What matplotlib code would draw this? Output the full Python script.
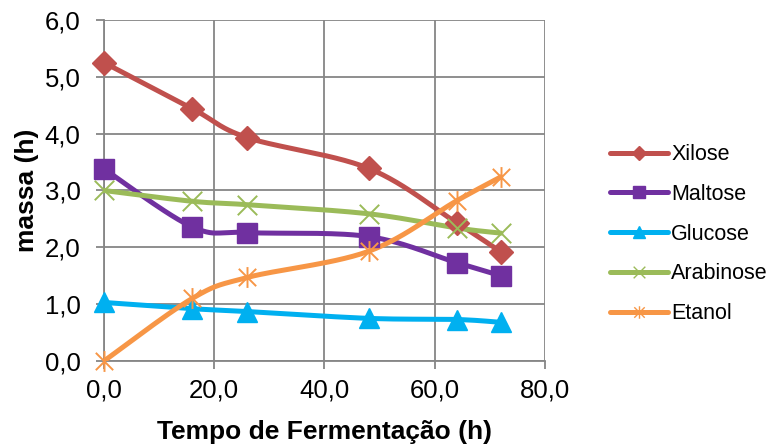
import numpy as np
import matplotlib
matplotlib.use("Agg")
from matplotlib import pyplot as plt
from matplotlib.path import Path
from matplotlib.lines import Line2D

plt.rcParams['font.family'] = ['Liberation Sans', 'DejaVu Sans']

# data
tempo = [0, 16, 26, 48, 64, 72]
xilose = [5.25, 4.44, 3.93, 3.39, 2.43, 1.92]
maltose = [3.38, 2.36, 2.26, 2.19, 1.73, 1.50]
glucose = [1.03, 0.92, 0.87, 0.75, 0.73, 0.68]
arabinose = [3.00, 2.81, 2.75, 2.59, 2.34, 2.25]
etanol = [0.00, 1.10, 1.47, 1.93, 2.82, 3.24]

names = ["Xilose", "Maltose", "Glucose", "Arabinose", "Etanol"]
colors = ["#C0504D", "#7030A0", "#00B0F0", "#9BBB59", "#F79646"]

# Excel-like star marker (x with vertical bar)
star = Path([(-1, -1), (1, 1), (-1, 1), (1, -1), (0, -1.2), (0, 1.2)],
            [Path.MOVETO, Path.LINETO, Path.MOVETO, Path.LINETO, Path.MOVETO, Path.LINETO])
xmark = Path([(-1, -1), (1, 1), (-1, 1), (1, -1)],
             [Path.MOVETO, Path.LINETO, Path.MOVETO, Path.LINETO])
markers = ["D", "s", "^", xmark, star]
msizes = [12, 14, 14, 14, 15]


def smooth(x, y, n=30):
  # catmull-rom style bezier like excel's smoothed line
  x = np.asarray(x, float); y = np.asarray(y, float)
  px = np.concatenate([[x[0]], x, [x[-1]]])
  py = np.concatenate([[y[0]], y, [y[-1]]])
  xs, ys = [], []
  t = np.linspace(0, 1, n)
  for i in range(1, len(px) - 2):
    p0 = np.array([px[i], py[i]])
    p3 = np.array([px[i + 1], py[i + 1]])
    p1 = p0 + (np.array([px[i + 1], py[i + 1]]) - np.array([px[i - 1], py[i - 1]])) / 6
    p2 = p3 - (np.array([px[i + 2], py[i + 2]]) - np.array([px[i], py[i]])) / 6
    b = ((1 - t) ** 3)[:, None] * p0 + (3 * (1 - t) ** 2 * t)[:, None] * p1 \
        + (3 * (1 - t) * t ** 2)[:, None] * p2 + (t ** 3)[:, None] * p3
    xs.extend(b[:, 0]); ys.extend(b[:, 1])
  return xs, ys


fig = plt.figure(figsize=(7.68, 4.47), dpi=100)
ax = fig.add_axes([0.1354, 0.1924, 0.5742, 0.7629])

series = [xilose, maltose, glucose, arabinose, etanol]
handles = []
for k, s in enumerate(series):
  sx, sy = smooth(tempo, s)
  ax.plot(sx, sy, color=colors[k], lw=3.6, solid_capstyle='round', zorder=3)
  unfilled = k >= 3
  ax.plot(tempo, s, ls='none', marker=markers[k], ms=msizes[k], color=colors[k],
          mfc='none' if unfilled else colors[k], mew=1.4 if unfilled else 1, zorder=4,
          clip_on=False)
  handles.append(Line2D([], [], color=colors[k], lw=3.6, solid_capstyle='round',
                        marker=markers[k], ms=msizes[k] * 0.6,
                        mfc='none' if unfilled else colors[k], mew=1.0))

ax.set_xlim(0, 80)
ax.set_ylim(0, 6)
ax.set_xticks(np.arange(0, 81, 20))
ax.set_yticks(np.arange(0, 7, 1))
ax.set_xticklabels([f"{v:.1f}".replace(".", ",") for v in np.arange(0, 81, 20)])
ax.set_yticklabels([f"{v:.1f}".replace(".", ",") for v in np.arange(0, 7, 1)])
ax.grid(True, color="#868686", lw=1.3)
ax.set_axisbelow(True)
for sp in ["top", "right"]:
  ax.spines[sp].set_visible(False)
for sp in ["left", "bottom"]:
  ax.spines[sp].set_color("#868686")
  ax.spines[sp].set_linewidth(1.3)
ax.tick_params(colors="#868686", length=6, width=1.3, labelsize=18.5, labelcolor="black")
ax.tick_params(axis="x", pad=6.5)
ax.tick_params(axis="y", pad=11)
ax.set_xlabel("Tempo de Fermentação (h)", fontsize=19, fontweight="bold", labelpad=13)
ax.set_ylabel("massa (h)", fontsize=19, fontweight="bold", labelpad=4)

fig.legend(handles, names, loc="center left", bbox_to_anchor=(0.794, 0.476),
           frameon=False, fontsize=15.5, handlelength=2.7, labelspacing=0.87,
           handletextpad=0.15, borderpad=0, borderaxespad=0)

fig.savefig("out.png", dpi=100)
